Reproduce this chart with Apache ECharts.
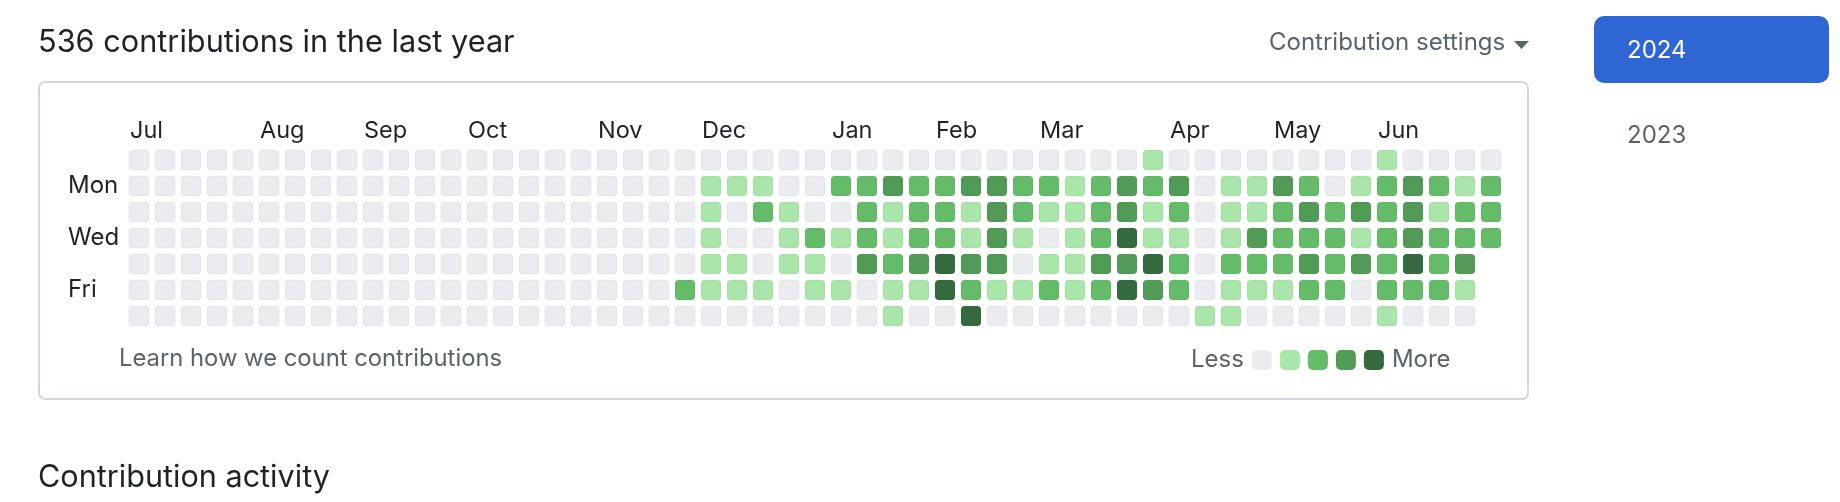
<!DOCTYPE html>
<html><head><meta charset="utf-8">
<script src="https://cdn.jsdelivr.net/npm/echarts@6/dist/echarts.min.js"></script>
<style>html,body{margin:0;padding:0;background:#fff}#c{width:1840px;height:502px}</style>
</head><body><div id="c"></div>
<script>
// ---- data ----
const dayNames = ['Sun', 'Mon', 'Tue', 'Wed', 'Thu', 'Fri', 'Sat'];
const dayLabels = ['', 'Mon', '', 'Wed', '', 'Fri', ''];
const monthNames = ['Jul', 'Aug', 'Sep', 'Oct', 'Nov', 'Dec', 'Jan', 'Feb', 'Mar', 'Apr', 'May', 'Jun'];
const monthWeeks = [0, 5, 9, 13, 18, 22, 27, 31, 35, 40, 44, 48];
const levelColors = ['#ebecf0', '#aae5aa', '#64bc69', '#529b56', '#356a3e'];
// contribution level per week (53 weeks), one array per weekday; null = future day
const sun = [0,0,0,0,0,0,0,0,0,0,0,0,0,0,0,0,0,0,0,0,0, 0,0,0,0,0,0,0,0,0,0,0, 0,0,0,0,0,0,0,1,0,0,0, 0,0,0,0,0,1,0,0,0,0];
const mon = [0,0,0,0,0,0,0,0,0,0,0,0,0,0,0,0,0,0,0,0,0, 0,1,1,1,0,0,2,2,3,2,2, 3,3,2,2,1,2,3,2,3,0,1, 1,3,2,0,1,2,3,2,1,2];
const tue = [0,0,0,0,0,0,0,0,0,0,0,0,0,0,0,0,0,0,0,0,0, 0,1,0,2,1,0,0,2,1,2,2, 1,3,2,1,1,2,3,1,2,0,1, 1,2,3,2,3,2,3,1,2,2];
const wed = [0,0,0,0,0,0,0,0,0,0,0,0,0,0,0,0,0,0,0,0,0, 0,1,0,0,1,2,1,2,1,2,2, 1,3,1,0,1,2,4,1,1,0,1, 3,2,2,2,1,2,3,2,2,2];
const thu = [0,0,0,0,0,0,0,0,0,0,0,0,0,0,0,0,0,0,0,0,0, 0,1,1,0,1,1,0,3,2,3,4, 3,3,0,1,1,3,3,4,2,0,2, 2,2,3,2,3,2,4,2,3,null];
const fri = [0,0,0,0,0,0,0,0,0,0,0,0,0,0,0,0,0,0,0,0,0, 2,1,1,1,0,1,1,0,1,1,4, 2,1,1,2,1,2,4,3,2,0,1, 1,1,2,2,0,2,2,2,1,null];
const sat = [0,0,0,0,0,0,0,0,0,0,0,0,0,0,0,0,0,0,0,0,0, 0,0,0,0,0,0,0,0,1,0,0, 4,0,0,0,0,0,0,0,0,1,1, 0,0,0,0,0,1,0,0,0,null];

const rows = [sun, mon, tue, wed, thu, fri, sat];
const weeks = sun.map((_, i) => 'W' + (i + 1));
const cells = [];
rows.forEach((row, d) => row.forEach((v, w) => { if (v !== null) cells.push([w, d, v]); }));
const monthData = monthWeeks.map((w, i) => [w, 0, i]);

const FONT = 'Inter, "Noto Sans", sans-serif';
const chart = echarts.init(document.getElementById('c'), null, { renderer: 'canvas' });
chart.setOption({
  animation: false,
  backgroundColor: '#ffffff',
  grid: { left: 126, top: 147, width: 1378, height: 182 },
  xAxis: { type: 'category', data: weeks, show: false },
  yAxis: {
    type: 'category', data: dayNames, inverse: true, show: true,
    axisLine: { show: false }, axisTick: { show: false }, splitLine: { show: false },
    axisLabel: {
      show: true, interval: 0,
      formatter: (v) => dayLabels[dayNames.indexOf(v)], align: 'left', margin: 58,
      color: '#1f2328', fontSize: 24, fontFamily: FONT
    }
  },
  visualMap: {
    type: 'piecewise', seriesIndex: 0, dimension: 2, orient: 'horizontal',
    pieces: levelColors.map((c, i) => ({ value: i, color: c })),
    text: ['More', 'Less'], itemWidth: 20, itemHeight: 20, itemGap: 8, textGap: 10,
    itemSymbol: 'roundRect', selectedMode: false, hoverLink: false,
    left: 1176, top: 333,
    textStyle: { color: '#59636e', fontSize: 24, fontFamily: FONT }
  },
  graphic: [
    { type: 'rect', z: -10, shape: { x: 39, y: 82, width: 1489, height: 317, r: 6 },
      style: { fill: '#fff', stroke: '#d1d7de', lineWidth: 2 } },
    { type: 'text', x: 38, y: 43, style: { text: '536 contributions in the last year', font: '30.7px ' + FONT, fill: '#1f2328', textVerticalAlign: 'middle' } },
    { type: 'text', x: 1269, y: 43, style: { text: 'Contribution settings', font: '24px ' + FONT, fill: '#59636e', textVerticalAlign: 'middle' } },
    { type: 'polygon', shape: { points: [[1514, 41], [1529, 41], [1521.5, 49]] }, style: { fill: '#59636e' } },
    { type: 'rect', shape: { x: 1594, y: 16, width: 235, height: 67, r: 10 }, style: { fill: '#2e67d3' } },
    { type: 'text', x: 1627, y: 51, style: { text: '2024', font: '24px ' + FONT, fill: '#ffffff', textVerticalAlign: 'middle' } },
    { type: 'text', x: 1627, y: 136, style: { text: '2023', font: '24px ' + FONT, fill: '#59636e', textVerticalAlign: 'middle' } },
    { type: 'text', x: 119, y: 359, style: { text: 'Learn how we count contributions', font: '23.8px ' + FONT, fill: '#59636e', textVerticalAlign: 'middle' } },
    { type: 'text', x: 38, y: 478, style: { text: 'Contribution activity', font: '30.6px ' + FONT, fill: '#1f2328', textVerticalAlign: 'middle' } }
  ],
  series: [
    {
      type: 'custom', data: cells, encode: { x: 0, y: 1 },
      renderItem: (params, api) => {
        const c = api.coord([api.value(0), api.value(1)]);
        const s = api.size([1, 1]);
        const w = s[0] - 6, h = s[1] - 6;
        return { type: 'rect', shape: { x: c[0] - w / 2, y: c[1] - h / 2, width: w, height: h, r: 4 },
          style: { fill: api.visual('color'), stroke: 'rgba(31,35,40,0.06)', lineWidth: 1 } };
      }
    },
    {
      type: 'custom', data: monthData, encode: { x: 0, y: 1 }, silent: true,
      renderItem: (params, api) => {
        const c = api.coord([api.value(0), api.value(1)]);
        const s = api.size([1, 1]);
        return { type: 'text', style: { x: c[0] - s[0] / 2 + 4, y: c[1] - s[1] / 2 - 16,
          text: monthNames[api.value(2)], font: '23.5px ' + FONT, fill: '#1f2328', textVerticalAlign: 'middle' } };
      }
    }
  ]
});
</script></body></html>
